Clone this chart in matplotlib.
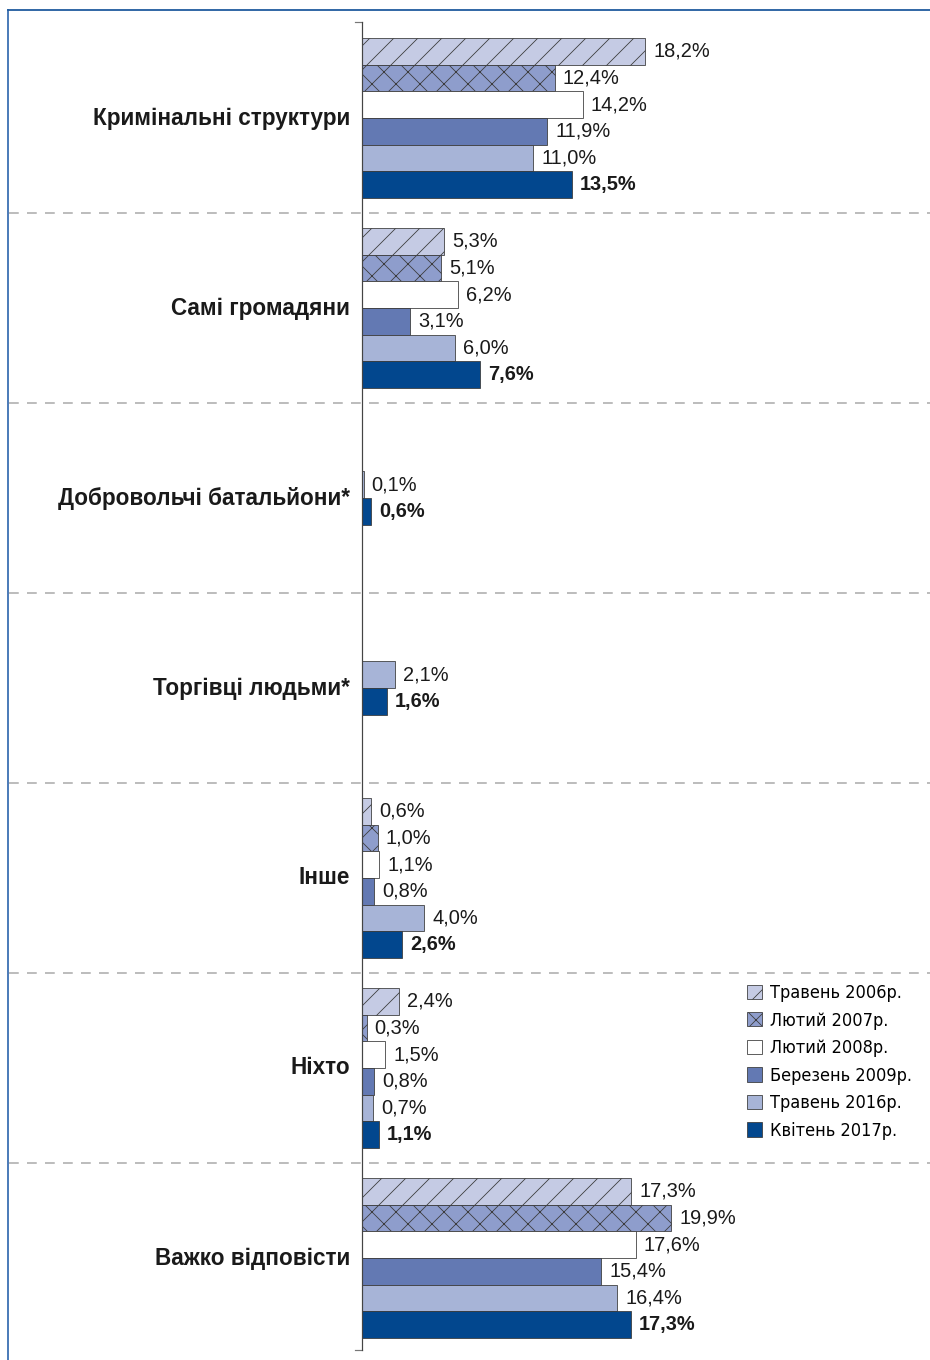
import matplotlib
matplotlib.use("Agg")
import matplotlib.pyplot as plt
import matplotlib.transforms as mtransforms
from matplotlib.patches import Patch
from matplotlib.lines import Line2D

plt.rcParams['font.family'] = ['Liberation Sans', 'DejaVu Sans']
plt.rcParams['hatch.linewidth'] = 0.8

categories = ["Кримінальні структури", "Самі громадяни", "Добровольчі батальйони*",
              "Торгівці людьми*", "Інше", "Ніхто", "Важко відповісти"]
series_names = ["Травень 2006р.", "Лютий 2007р.", "Лютий 2008р.",
                "Березень 2009р.", "Травень 2016р.", "Квітень 2017р."]
may2006 = [18.2, 5.3, None, None, 0.6, 2.4, 17.3]
feb2007 = [12.4, 5.1, None, None, 1.0, 0.3, 19.9]
feb2008 = [14.2, 6.2, None, None, 1.1, 1.5, 17.6]
mar2009 = [11.9, 3.1, None, None, 0.8, 0.8, 15.4]
may2016 = [11.0, 6.0, 0.1, 2.1, 4.0, 0.7, 16.4]
apr2017 = [13.5, 7.6, 0.6, 1.6, 2.6, 1.1, 17.3]
series = [may2006, feb2007, feb2008, mar2009, may2016, apr2017]

colors = ["#c5cbe4", "#8e9dcc", "#ffffff", "#6379b3", "#a7b4d7", "#02478e"]
hatches = ["/", "x", None, None, None, None]

W, H, DPI = 930, 1360, 72
fig = plt.figure(figsize=(W / DPI, H / DPI), dpi=DPI)
ax_left, ax_top, ax_bottom = 362, 22, 1350
ax = fig.add_axes([ax_left / W, 1 - ax_bottom / H, 1 - ax_left / W, (ax_bottom - ax_top) / H])

px_per_unit = 15.55
ax.set_xlim(0, (W - ax_left) / px_per_unit)
group_px = 190.0
first_center = 118.0
ax.set_ylim((ax_bottom - first_center) / group_px, (ax_top - first_center) / group_px)

bar_h = 26.7 / group_px
for gi, cat in enumerate(categories):
    present = [si for si in range(len(series)) if series[si][gi] is not None]
    n = len(present)
    for k, si in enumerate(present):
        v = series[si][gi]
        y = gi + (k - (n - 1) / 2) * bar_h
        ax.barh(y, v, height=bar_h, color=colors[si], edgecolor="#3a3a3a",
                linewidth=0.8, hatch=hatches[si], zorder=2)
        bold = si == len(series) - 1
        ax.annotate(f"{v:.1f}%".replace(".", ","), xy=(v, y), xytext=(8, 0),
                    textcoords="offset pixels", ha="left", va="center",
                    fontsize=20, fontweight="bold" if bold else "normal",
                    color="#1a1a1a")
    ax.annotate(cat, xy=(0, gi), xytext=(-12, 0), textcoords="offset pixels",
                ha="right", va="center", fontsize=22.5, fontweight="bold",
                color="#1a1a1a", annotation_clip=False)

# separators across full width
blend = mtransforms.blended_transform_factory(fig.transFigure, ax.transData)
for gi in range(len(categories) - 1):
    fig.add_artist(Line2D([9 / W, 1], [gi + 0.5, gi + 0.5], transform=blend,
                          color="#a8a8a8", linewidth=1.5, linestyle=(0, (6.5, 5.5))))

for s in ["top", "right", "bottom"]:
    ax.spines[s].set_visible(False)
ax.spines["left"].set_color("#444444")
ax.spines["left"].set_linewidth(1.2)
ax.set_xticks([])
ax.set_yticks([])
# end ticks
ytop, ybot = ax.get_ylim()[1], ax.get_ylim()[0]
for yy in (ytop, ybot):
    ax.plot([-7 / px_per_unit, 0], [yy, yy], color="#777777", lw=1.2, clip_on=False)

# border (left + top)
fig.add_artist(Line2D([8 / W, 8 / W], [0, 1 - 10 / H], transform=fig.transFigure,
                      color="#3b6fb2", linewidth=1.8))
fig.add_artist(Line2D([8 / W, 1], [1 - 10 / H, 1 - 10 / H], transform=fig.transFigure,
                      color="#1f5a9e", linewidth=1.8))

handles = [Patch(facecolor=colors[i], edgecolor="#3a3a3a", linewidth=0.8, hatch=hatches[i])
           for i in range(len(series_names))]
fig.legend(handles, series_names, loc="upper left",
           bbox_to_anchor=(747 / W, 1 - 984 / H), frameon=False,
           handlelength=0.85, handleheight=0.85, handletextpad=0.4,
           labelspacing=0.53, borderaxespad=0, borderpad=0,
           prop={"family": "DejaVu Sans", "stretch": "condensed", "size": 18})

fig.savefig("out.png", dpi=DPI, facecolor="white")
